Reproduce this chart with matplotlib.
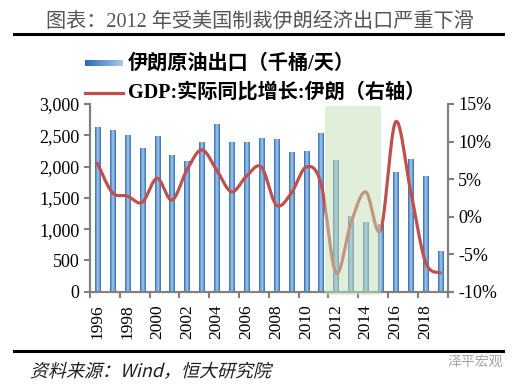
import numpy as np
import matplotlib.pyplot as plt
from matplotlib.colors import LinearSegmentedColormap
from matplotlib.lines import Line2D
from matplotlib.patches import Rectangle, PathPatch
from matplotlib.textpath import TextPath
from matplotlib.font_manager import FontProperties
from matplotlib.transforms import Affine2D

# data
years = list(range(1996, 2020))
oil_export = [2632, 2584, 2504, 2297, 2488, 2185, 2089, 2393, 2680, 2393, 2382, 2451,
              2435, 2232, 2249, 2536, 2105, 1210, 1114, 1082, 1913, 2121, 1849, 650]
gdp_growth = [7.1, 3.2, 2.75, 1.9, 5.1, 2.2, 6.2, 8.9, 6.2, 3.3, 5.4, 6.6,
              1.55, 3.1, 6.6, 4.4, -7.5, -0.9, 3.3, -1.8, 12.6, 3.55, -6.0, -7.5]
left_ticks = [0, 500, 1000, 1500, 2000, 2500, 3000]
right_ticks = [-10, -5, 0, 5, 10, 15]
sanction_span = (15.25, 19.05)  # shaded years (category positions)

title = "图表：2012 年受美国制裁伊朗经济出口严重下滑"
bar_label = "伊朗原油出口（千桶/天）"
line_label = "GDP:实际同比增长:伊朗（右轴）"
source = "资料来源：Wind，恒大研究院"

serif_cjk = ['Liberation Serif', 'Noto Sans CJK SC', 'DejaVu Sans']
plt.rcParams['font.family'] = serif_cjk

GRAY = '#808080'
RED = '#c0504d'
bar_cmap = LinearSegmentedColormap.from_list('bar', ['#2f6fb8', '#a9c9ea', '#2f6fb8'])
leg_cmap = LinearSegmentedColormap.from_list('leg', ['#2a6ab5', '#a9c9ea'])


def smooth(x, y, n=24):
    # bezier smoothing like the office "smoothed line" option
    x = np.asarray(x, float)
    y = np.asarray(y, float)
    px = np.concatenate([[x[0]], x, [x[-1]]])
    py = np.concatenate([[y[0]], y, [y[-1]]])
    out_x, out_y = [], []
    t = np.linspace(0, 1, n)
    for i in range(1, len(x)):
        p0 = np.array([px[i], py[i]])
        p3 = np.array([px[i + 1], py[i + 1]])
        p1 = p0 + (np.array([px[i + 1], py[i + 1]]) - np.array([px[i - 1], py[i - 1]])) / 6
        p2 = p3 - (np.array([px[i + 2], py[i + 2]]) - np.array([px[i], py[i]])) / 6
        seg = ((1 - t) ** 3)[:, None] * p0 + (3 * (1 - t) ** 2 * t)[:, None] * p1 \
            + (3 * (1 - t) * t ** 2)[:, None] * p2 + (t ** 3)[:, None] * p3
        out_x.extend(seg[:, 0])
        out_y.extend(seg[:, 1])
    return out_x, out_y


fig = plt.figure(figsize=(5.2, 3.9), dpi=100)
ax = fig.add_axes([90 / 520, 1 - 291.7 / 390, 357.7 / 520, 187.7 / 390])

x = np.arange(len(years))
bw = 0.34
grad = np.linspace(0, 1, 50).reshape(1, -1)
for xi, v in zip(x, oil_export):
    ax.imshow(grad, extent=(xi - bw / 2, xi + bw / 2, 0, v), aspect='auto',
              cmap=bar_cmap, interpolation='bilinear', zorder=2)

ax.set_xlim(-0.5, len(years) - 0.5)
ax.set_ylim(0, 3000)
ax.set_yticks(left_ticks)
ax.set_yticklabels([f"{v:,}" for v in left_ticks], fontsize=13)

ax.set_xticks(np.arange(-0.5, len(years), 2))
ax.set_xticklabels([])
ax.set_xticks(x[::2], minor=True)
ax.set_xticklabels([str(y) for y in years[::2]], minor=True, rotation=90, fontsize=12.5)
ax.tick_params(axis='x', which='minor', length=0, pad=9)
ax.tick_params(axis='both', which='major', length=4, width=1.5, color=GRAY)

ax2 = ax.twinx()
lx, ly = smooth(x, gdp_growth)
ax2.plot(lx, ly, color=RED, lw=2.3, zorder=3, solid_capstyle='round')
ax2.set_ylim(-10, 15)
ax2.set_yticks(right_ticks)
ax2.set_yticklabels([f"{v}%" for v in right_ticks], fontsize=13)
ax2.tick_params(axis='y', length=4, width=1.5, color=GRAY)

# sanction period shading, drawn over bars and line
ax2.add_patch(Rectangle((sanction_span[0], -0.02), sanction_span[1] - sanction_span[0], 1.01,
                        transform=ax2.get_xaxis_transform(), facecolor='#c5dfb5',
                        edgecolor='none', alpha=0.5, zorder=5, clip_on=False))

for a in (ax, ax2):
    a.spines['top'].set_visible(False)
    for s in ('left', 'bottom', 'right'):
        a.spines[s].set_color(GRAY)
        a.spines[s].set_linewidth(1.5)

# title and rules
fig.text(260 / 520, 1 - 22 / 390, title, ha='center', va='center', fontsize=14.5, color='#555555')
fig.add_artist(Line2D([14 / 520, 503 / 520], [1 - 34 / 390] * 2, color='black', lw=2.2))
fig.add_artist(Line2D([14 / 520, 503 / 520], [1 - 351 / 390] * 2, color='black', lw=2.2))

# legend drawn by hand
lg = fig.add_axes([85 / 520, 1 - 66 / 390, 38 / 520, 6 / 390])
lg.imshow(grad, aspect='auto', cmap=leg_cmap, interpolation='bilinear')
lg.axis('off')
fig.text(128 / 520, 1 - 64 / 390, bar_label, ha='left', va='center', fontsize=14.5, fontweight='bold')
fig.add_artist(Line2D([85 / 520, 123 / 520], [1 - 93 / 390] * 2, color=RED, lw=2.3))
fig.text(128 / 520, 1 - 93 / 390, line_label, ha='left', va='center', fontsize=14.5, fontweight='bold')

# source note, slanted like the original italic
src_path = TextPath((0, 0), source, size=18, prop=FontProperties(family='Noto Sans CJK SC'))
src_tf = Affine2D().skew_deg(14, 0).translate(30, 390 - 377)
fig.add_artist(PathPatch(src_tf.transform_path(src_path), facecolor='#202020', edgecolor='none',
                         transform=None))
fig.text(503 / 520, 1 - 362 / 390, "泽平宏观", ha='right', va='center', fontsize=10,
         color='#a6a6a6', family=['Noto Sans CJK SC', 'DejaVu Sans'])

fig.savefig('out.png', dpi=100)
